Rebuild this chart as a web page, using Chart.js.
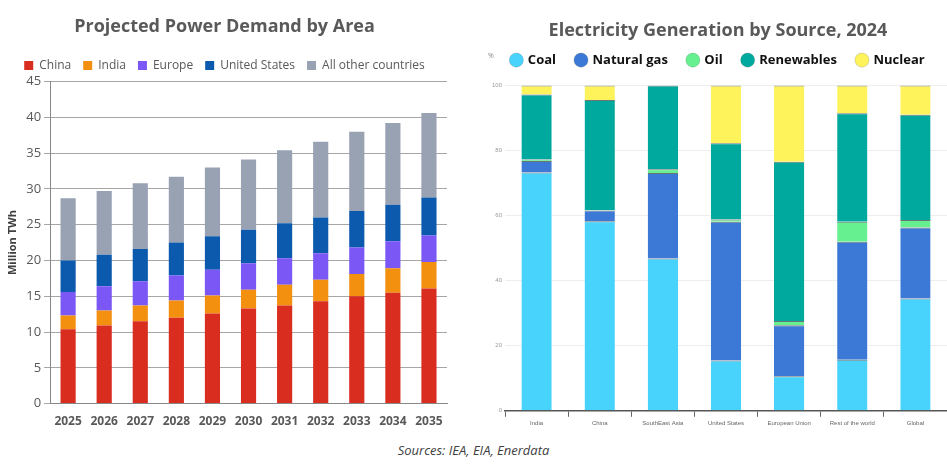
<!DOCTYPE html>
<html><head><meta charset="utf-8">
<script src="https://cdn.jsdelivr.net/npm/chart.js@4"></script>
<style>
body{margin:0;width:947px;height:473px;background:#fff;position:relative;overflow:hidden;font-family:"Open Sans",sans-serif}
#l{position:absolute;left:0;top:0;width:470px;height:432px}
#r{position:absolute;left:475px;top:0;width:472px;height:430px}
#src{position:absolute;left:0;width:947px;top:441px;text-align:center;font-style:italic;font-size:13px;color:#404040}
#pct{position:absolute;left:488px;top:51px;font-size:7px;color:#888}
</style></head><body>
<div id="l"><canvas id="c1"></canvas></div>
<div id="r"><canvas id="c2"></canvas></div>
<div id="pct">%</div>
<div id="src">Sources: IEA, EIA, Enerdata</div>
<script>
const years=["2025","2026","2027","2028","2029","2030","2031","2032","2033","2034","2035"];
const china=[10.4,10.9,11.5,12.0,12.6,13.3,13.7,14.3,15.0,15.5,16.1];
const india=[1.9,2.1,2.2,2.4,2.5,2.6,2.9,3.0,3.1,3.4,3.7];
const europe=[3.3,3.4,3.4,3.5,3.6,3.7,3.7,3.7,3.7,3.8,3.7];
const us=[4.4,4.4,4.5,4.6,4.7,4.7,4.9,5.0,5.1,5.1,5.3];
const others=[8.7,8.9,9.2,9.2,9.6,9.8,10.2,10.6,11.1,11.4,11.8];

const regions=["India","China","SouthEast Asia","United States","European Union","Rest of the world","Global"];
const coal=[73.3,58.3,46.8,15.5,10.6,15.7,34.5];
const gas=[3.5,3.3,26.3,42.6,15.7,36.3,21.9];
const oil=[0.5,0.1,1.2,0.7,1.3,6.1,2.3];
const renew=[20.0,33.9,25.7,23.5,49.0,33.4,32.3];
const nuclear=[2.7,4.4,0,17.7,23.4,8.5,9.0];

const g='#595959';
new Chart(document.getElementById('c1'),{type:'bar',
data:{labels:years,datasets:[
{label:'China',data:china,backgroundColor:'#d92d20'},
{label:'India',data:india,backgroundColor:'#f39010'},
{label:'Europe',data:europe,backgroundColor:'#7b57f5'},
{label:'United States',data:us,backgroundColor:'#0c5aad'},
{label:'All other countries',data:others,backgroundColor:'#98a2b3'}]},
options:{animation:false,responsive:true,maintainAspectRatio:false,
layout:{padding:{left:2,right:23,top:14,bottom:0}},
datasets:{bar:{categoryPercentage:1,barPercentage:0.42}},
plugins:{title:{display:true,text:'Projected Power Demand by Area',color:g,font:{family:'Open Sans',size:18,weight:'bold'},padding:{top:2,bottom:10}},
legend:{labels:{boxWidth:9,boxHeight:9,color:g,font:{family:'Open Sans',size:12},padding:12}},tooltip:{enabled:false}},
scales:{x:{stacked:true,grid:{display:false},border:{color:'#888'},ticks:{color:g,font:{family:'Open Sans',size:12,weight:'bold'}}},
y:{stacked:true,min:0,max:45,ticks:{stepSize:5,color:g,font:{family:'Open Sans',size:13}},grid:{color:'#a6a6a6',tickLength:6},border:{color:'#888'},
title:{display:true,text:'Million TWh',color:'#404040',font:{family:'Open Sans',size:11,weight:'bold'}}}}}});

const lgap={id:'lgap',beforeInit(c){const lg=c.legend;const f=lg.fit.bind(lg);lg.fit=function(){f();this.height+=9;};}};
function ds(l,d,c){return {label:l,data:d,backgroundColor:c,borderColor:'rgba(40,60,60,0.7)',borderWidth:{top:1},borderSkipped:false};}
new Chart(document.getElementById('c2'),{type:'bar',plugins:[lgap],
data:{labels:regions,datasets:[ds('Coal',coal,'#48d3fd'),ds('Natural gas',gas,'#3c78d5'),ds('Oil',oil,'#66f090'),ds('Renewables',renew,'#00a99d'),ds('Nuclear',nuclear,'#fff35c')]},
options:{animation:false,responsive:true,maintainAspectRatio:false,
layout:{padding:{left:14,right:0,top:20,bottom:0}},
datasets:{bar:{categoryPercentage:1,barPercentage:0.48}},
plugins:{title:{display:true,text:'Electricity Generation by Source, 2024',color:g,font:{family:'Open Sans',size:18,weight:'bold'},padding:{top:0,bottom:-8}},
legend:{labels:{usePointStyle:true,pointStyle:'circle',boxWidth:10,boxHeight:10,color:'#111',font:{family:'Open Sans',size:13,weight:'bold'},padding:20}},tooltip:{enabled:false}},
scales:{x:{stacked:true,grid:{display:true,drawOnChartArea:false,color:'#666',tickLength:6},border:{color:'#555',width:1.5},ticks:{color:'#666',font:{family:'Liberation Sans Narrow, Liberation Sans',size:6}}},
y:{stacked:true,min:0,max:100,ticks:{stepSize:20,color:'#999',font:{size:6}},grid:{color:'#eeeeee',drawTicks:false},border:{display:false}}}}});
</script></body></html>
